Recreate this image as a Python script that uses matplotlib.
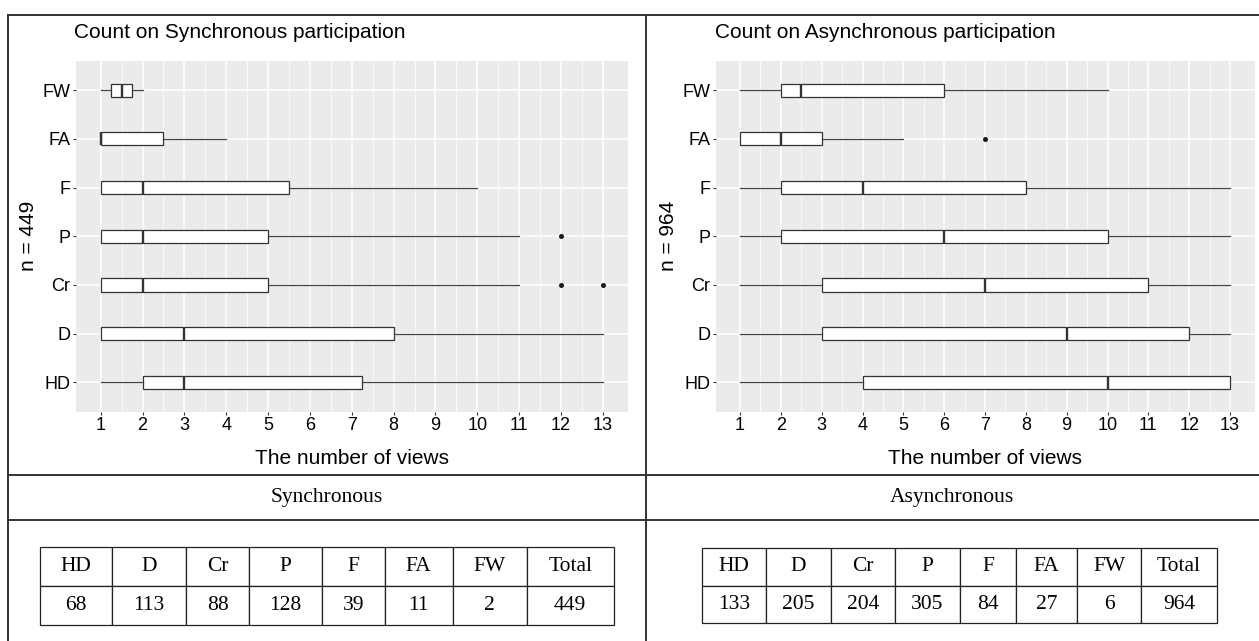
import numpy as np
import matplotlib
matplotlib.use("Agg")
import matplotlib.pyplot as plt
from matplotlib.lines import Line2D

# Categories (bottom to top on the y axis)
categories = ["HD", "D", "Cr", "P", "F", "FA", "FW"]

# Synchronous boxplot values
sync_whislo = [1, 1, 1, 1, 1, 1, 1]
sync_q1 = [2, 1, 1, 1, 1, 1, 1.25]
sync_med = [3, 3, 2, 2, 2, 1, 1.5]
sync_q3 = [7.25, 8, 5, 5, 5.5, 2.5, 1.75]
sync_whishi = [13, 13, 11, 11, 10, 4, 2]
sync_fliers = [[], [], [12, 13], [12], [], [], []]

# Asynchronous boxplot values
async_whislo = [1, 1, 1, 1, 1, 1, 1]
async_q1 = [4, 3, 3, 2, 2, 1, 2]
async_med = [10, 9, 7, 6, 4, 2, 2.5]
async_q3 = [13, 12, 11, 10, 8, 3, 6]
async_whishi = [13, 13, 13, 13, 13, 5, 10]
async_fliers = [[], [], [], [], [], [7], []]

x_ticks = list(range(1, 14))

# Tables under the plots
table_header = ["HD", "D", "Cr", "P", "F", "FA", "FW", "Total"]
sync_counts = [68, 113, 88, 128, 39, 11, 2]
async_counts = [133, 205, 204, 305, 84, 27, 6]

W, H = 1259, 641
SANS = "Liberation Sans"
SERIF = "Liberation Serif"
EDGE = "#333333"


def px_axes(fig, x0, y0, x1, y1):
    return fig.add_axes([x0 / W, 1 - y1 / H, (x1 - x0) / W, (y1 - y0) / H])


def make_stats(whislo, q1, med, q3, whishi, fliers):
    stats = []
    for i in range(len(categories)):
        stats.append({"whislo": whislo[i], "q1": q1[i], "med": med[i],
                      "q3": q3[i], "whishi": whishi[i],
                      "fliers": np.array(fliers[i], dtype=float)})
    return stats


def draw_box_panel(ax, stats):
    ax.set_facecolor("#EBEBEB")
    ax.set_xlim(0.4, 13.6)
    ax.set_ylim(0.4, 7.6)
    ax.set_xticks(x_ticks)
    ax.set_xticks(np.arange(1.5, 13, 1), minor=True)
    ax.grid(which="major", color="white", lw=1.1)
    ax.grid(which="minor", axis="x", color="white", lw=0.55)
    ax.set_axisbelow(True)
    ax.bxp(stats, positions=range(1, len(categories) + 1), widths=0.27,
           orientation="horizontal", showcaps=False, patch_artist=True,
           boxprops=dict(facecolor="white", edgecolor=EDGE, lw=0.9),
           medianprops=dict(color=EDGE, lw=1.7),
           whiskerprops=dict(color="#444444", lw=0.9),
           flierprops=dict(marker="o", markersize=3.6, markerfacecolor="#1a1a1a",
                           markeredgecolor="none"))
    ax.set_yticks(range(1, len(categories) + 1))
    ax.set_yticklabels(categories)
    ax.set_xticklabels([str(t) for t in x_ticks])
    for s in ax.spines.values():
        s.set_visible(False)
    ax.tick_params(which="major", length=2.2, width=0.8, color=EDGE, pad=1.5,
                   labelsize=13, labelcolor="black")
    ax.tick_params(which="minor", length=0)
    for lab in ax.get_xticklabels() + ax.get_yticklabels():
        lab.set_family(SANS)


def draw_table(fig, x0, y0, x1, y1, counts, col_edges):
    ax = px_axes(fig, x0, y0, x1, y1)
    ax.axis("off")
    widths = np.diff(col_edges) / (col_edges[-1] - col_edges[0])
    row = [str(c) for c in counts] + [str(sum(counts))]
    tbl = ax.table(cellText=[table_header, row], colWidths=widths,
                   cellLoc="center", bbox=[0, 0, 1, 1])
    tbl.auto_set_font_size(False)
    for cell in tbl.get_celld().values():
        cell.set_edgecolor("#222222")
        cell.set_linewidth(0.9)
        cell.get_text().set_fontsize(15.5)
        cell.get_text().set_family(SERIF)


fig = plt.figure(figsize=(W / 100, H / 100), dpi=100)

# Boxplot panels
ax1 = px_axes(fig, 75.6, 61, 628, 411.5)
draw_box_panel(ax1, make_stats(sync_whislo, sync_q1, sync_med, sync_q3,
                               sync_whishi, sync_fliers))
ax2 = px_axes(fig, 715.5, 61, 1254.5, 411.5)
draw_box_panel(ax2, make_stats(async_whislo, async_q1, async_med, async_q3,
                               async_whishi, async_fliers))


def ftext(x, y, s, **kw):
    fig.text(x / W, 1 - y / H, s, **kw)


ftext(74, 32, "Count on Synchronous participation", ha="left", va="center",
      fontsize=15, family=SANS)
ftext(715, 32, "Count on Asynchronous participation", ha="left", va="center",
      fontsize=15, family=SANS)
ftext(28, 236, "n = 449", ha="center", va="center", rotation=90,
      fontsize=15, family=SANS)
ftext(668, 236, "n = 964", ha="center", va="center", rotation=90,
      fontsize=15, family=SANS)
ftext(352, 459, "The number of views", ha="center", va="center",
      fontsize=15, family=SANS)
ftext(985, 459, "The number of views", ha="center", va="center",
      fontsize=15, family=SANS)
ftext(327, 497.5, "Synchronous", ha="center", va="center",
      fontsize=15.5, family=SERIF)
ftext(952, 497.5, "Asynchronous", ha="center", va="center",
      fontsize=15.5, family=SERIF)

# Frame lines of the composite figure
frame = [((8, 1259), (15, 15)), ((8, 8), (15, 641)), ((646, 646), (15, 641)),
         ((8, 1259), (475, 475)), ((8, 1259), (520, 520))]
for xs, ys in frame:
    fig.add_artist(Line2D([x / W for x in xs], [1 - y / H for y in ys],
                          color="#333333", lw=1.4))

# Count tables
draw_table(fig, 40, 547, 614, 625, sync_counts,
           [40, 112, 186, 249, 322, 384.5, 453, 526.5, 614])
draw_table(fig, 702, 548, 1217, 623, async_counts,
           [702, 766, 831, 895, 960, 1016, 1077, 1141, 1217])

fig.savefig("out.png", dpi=100)
